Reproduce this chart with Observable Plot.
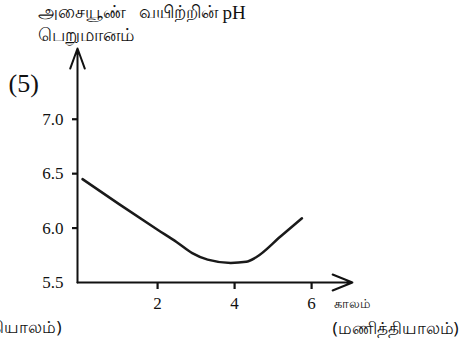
<!DOCTYPE html>
<html><head><meta charset="utf-8">
<script src="https://cdn.jsdelivr.net/npm/d3@7"></script>
<script src="https://cdn.jsdelivr.net/npm/@observablehq/plot@0.6"></script>
<style>
body{margin:0;background:#fff}
</style>
</head><body><div id="chart"></div>
<script>
const hours = [0.05, 1.0, 2.0, 2.5, 2.9, 3.3, 3.9, 4.3, 4.55, 5.2, 5.75];
const ph = [6.45, 6.22, 5.985, 5.87, 5.77, 5.71, 5.68, 5.69, 5.73, 5.925, 6.09];
const xTicks = [2, 4, 6];
const yTicks = [5.5, 6.0, 6.5, 7.0];
const titleTamil = "அசையூண்   வயிற்றின்";
const titleUnit = "pH";
const titleLine2 = "பெறுமானம்";
const panelLabel = "(5)";
const xLabel1 = "காலம்";
const xLabel2 = "(மணித்தியாலம்)";
const leftoverLabel = "(மணித்தியாலம்)";

const data = hours.map((h, i) => ({hours: h, ph: ph[i]}));
const xMin = -0.08, xArrowEnd = 7.06, yMin = 5.5, yMax = 7.65;
const tamil = "Noto Sans, sans-serif";
const serif = "Liberation Serif";

const chart = Plot.plot({
  width: 463, height: 343,
  marginLeft: 77, marginRight: 105.7, marginTop: 48, marginBottom: 61,
  style: {overflow: "visible", background: "#fff", color: "#111", fontFamily: serif, fontSize: "17px"},
  x: {domain: [xMin, 7.2], label: null},
  y: {domain: [yMin, yMax], label: null},
  marks: [
    Plot.arrow([0], {x1: xMin, y1: yMin, x2: xMin, y2: yMax, headAngle: 40, headLength: 16, strokeWidth: 2, stroke: "#111"}),
    Plot.arrow([0], {x1: xMin, y1: yMin, x2: xArrowEnd, y2: yMin, headAngle: 44, headLength: 16, strokeWidth: 2, stroke: "#111"}),
    Plot.axisY(yTicks.slice(1), {tickSize: 5, strokeWidth: 2.2, tickFormat: () => "", label: null}),
    Plot.axisX(xTicks, {tickSize: 7, strokeWidth: 2.2, tickFormat: () => "", label: null}),
    Plot.text(yTicks, {x: xMin, y: d => d, text: d => d3.format(".1f")(d), dx: -14, textAnchor: "end", lineAnchor: "middle", fontSize: 17, fontFamily: serif, fill: "#111"}),
    Plot.text(xTicks, {x: d => d, y: yMin, text: d => String(d), dy: 21, textAnchor: "middle", lineAnchor: "middle", fontSize: 17, fontFamily: serif, fill: "#111"}),
    Plot.line(data, {x: "hours", y: "ph", curve: "monotone-x", strokeWidth: 2.5, stroke: "#1a1a1a"}),
    Plot.text([titleTamil], {frameAnchor: "top-left", dx: -40, dy: -36, textAnchor: "start", lineAnchor: "middle", fontSize: 17.5, fontFamily: tamil, fill: "#111"}),
    Plot.text([titleUnit], {frameAnchor: "top-left", dx: 145, dy: -36, textAnchor: "start", lineAnchor: "middle", fontSize: 19, fontFamily: serif, fill: "#111"}),
    Plot.text([titleLine2], {frameAnchor: "top-left", dx: -40, dy: -13, textAnchor: "start", lineAnchor: "middle", fontSize: 17.5, fontFamily: tamil, fill: "#111"}),
    Plot.text([panelLabel], {frameAnchor: "top-left", dx: -69, dy: 35, textAnchor: "start", lineAnchor: "middle", fontSize: 26, fontFamily: serif, fill: "#111"}),
    Plot.text([xLabel1], {frameAnchor: "bottom-left", dx: 256, dy: 21, textAnchor: "start", lineAnchor: "middle", fontSize: 13, fontFamily: tamil, fill: "#111"}),
    Plot.text([xLabel2], {frameAnchor: "bottom-left", dx: 255, dy: 46, textAnchor: "start", lineAnchor: "middle", fontSize: 17, fontFamily: tamil, fill: "#111"}),
    Plot.text([leftoverLabel], {frameAnchor: "bottom-left", dx: -16, dy: 45, textAnchor: "end", lineAnchor: "middle", fontSize: 17, fontFamily: tamil, fill: "#111"})
  ]
});
document.getElementById("chart").appendChild(chart);
</script>
</body></html>
